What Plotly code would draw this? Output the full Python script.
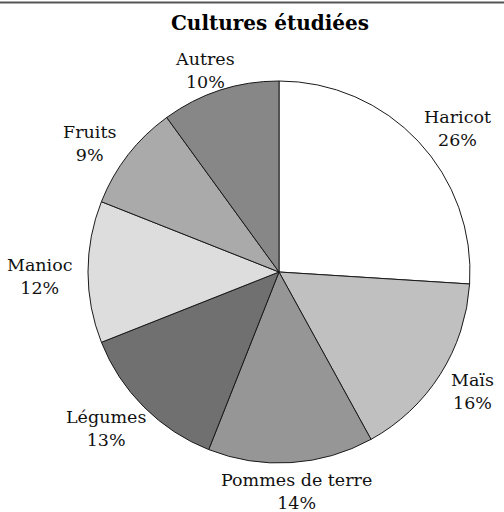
import math
import plotly.graph_objects as go

labels = ["Haricot", "Maïs", "Pommes de terre", "Légumes", "Manioc", "Fruits", "Autres"]
values = [26, 16, 14, 13, 12, 9, 10]
colors = ["#ffffff", "#c0c0c0", "#969696", "#707070", "#dddddd", "#aaaaaa", "#878787"]
title_text = "Cultures étudiées"

W, H = 504, 512
ml, mr, mt, mb = 88, 34, 81, 49
pw, ph = W - ml - mr, H - mt - mb
R = min(pw, ph) / 2
cx0, cy0 = ml + pw / 2, mt + ph / 2

FONT = "DejaVu Serif, Liberation Serif, serif"
FS = 17.5

fig = go.Figure(go.Pie(
    labels=labels,
    values=values,
    sort=False,
    direction="clockwise",
    rotation=0,
    marker=dict(colors=colors, line=dict(color="#1a1a1a", width=1)),
    textinfo="none",
    showlegend=False,
    hoverinfo="none",
))

# outside-end labels placed from the slice mid-angles on a label ellipse
total = sum(values)
annotations = []
cum = 0.0
gap_x, gap_y, drop = 18, 25, 4
for lab, v in zip(labels, values):
    mid = (cum + v / 2) / total * 2 * math.pi
    cum += v
    ux, uy = math.sin(mid), -math.cos(mid)
    text = f"{lab}<br>{round(100 * v / total)}%"
    w = 0.58 * FS * max(len(lab), 3)
    px = cx0 + ux * (R + gap_x + w / 2)
    py = cy0 + uy * (R + gap_y) + drop
    annotations.append(dict(
        x=(px - ml) / pw, y=1 - (py - mt) / ph,
        xref="paper", yref="paper",
        xanchor="center", yanchor="middle",
        text=text, showarrow=False, align="center",
        font=dict(family=FONT, size=FS, color="#111111"),
    ))

fig.update_layout(
    width=W, height=H,
    margin=dict(l=ml, r=mr, t=mt, b=mb),
    paper_bgcolor="white",
    plot_bgcolor="white",
    title=dict(
        text="<b>" + title_text + "</b>",
        x=270 / W, xanchor="center",
        y=1 - 23 / H, yanchor="middle",
        font=dict(family=FONT, size=20, color="#000000"),
    ),
    annotations=annotations,
    shapes=[dict(
        type="line", xref="paper", yref="paper",
        x0=-ml / pw, x1=1 + mr / pw,
        y0=1 + (mt - 2.5) / ph, y1=1 + (mt - 2.5) / ph,
        line=dict(color="#555555", width=2),
    )],
)

fig.write_html("out.html", config={"displayModeBar": False},
               post_script="document.body.style.margin='0';")
